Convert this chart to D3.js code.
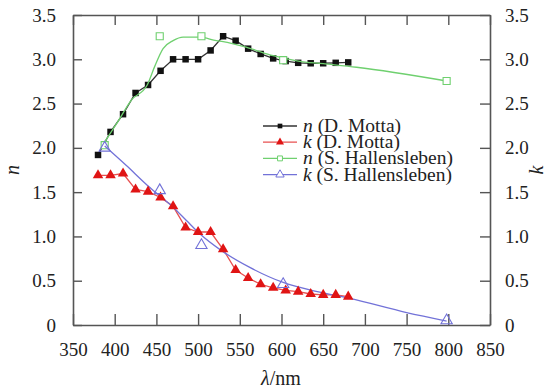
<!DOCTYPE html>
<html><head><meta charset="utf-8">
<script src="https://cdn.jsdelivr.net/npm/d3@7"></script>
</head>
<body><svg id="c" width="559" height="392"></svg>
<script>
// ---- data ----
const mottaWl = [380,395,410,425,440,455,470,485,500,515,530,545,560,575,590,605,620,635,650,665,680];
const mottaN  = [1.92,2.18,2.38,2.62,2.71,2.87,3.00,3.00,3.00,3.10,3.26,3.21,3.12,3.06,3.01,2.98,2.96,2.955,2.955,2.96,2.965];
const mottaK  = [1.69,1.69,1.71,1.53,1.505,1.44,1.34,1.10,1.05,1.05,0.855,0.62,0.53,0.46,0.42,0.39,0.376,0.35,0.34,0.34,0.32];
const halWl   = [388,454,504,602,798];
const halN    = [2.03,3.26,3.26,2.99,2.755];
const halK    = [2.0,1.52,0.90,0.46,0.05];
// fitted curves
const halFitNWl = [386,404,420,439,448,458,470,482,502,522,530,560,590,620,650,690,798];
const halFitN   = [2.04,2.30,2.54,2.71,2.92,3.12,3.21,3.25,3.25,3.21,3.20,3.13,3.04,2.98,2.95,2.91,2.755];
const halFitKWl = [388,414,440,455,470,486,502,528,562,602,646,682,750,798];
const halFitK   = [2.02,1.80,1.57,1.45,1.33,1.18,1.03,0.84,0.65,0.48,0.37,0.30,0.14,0.045];
const xTicks = [350,400,450,500,550,600,650,700,750,800,850];
const yTicks = [0,0.5,1.0,1.5,2.0,2.5,3.0,3.5];
const legendLabels = [["n"," (D. Motta)"],["k"," (D. Motta)"],["n"," (S. Hallensleben)"],["k"," (S. Hallensleben)"]];

d3.select("body").style("margin","0").style("background","#fff");
const FONT = "Liberation Serif";
const svg = d3.select("#c");
const x = d3.scaleLinear().domain([350,850]).range([73,490]);
const y = d3.scaleLinear().domain([0,3.5]).range([325,15]);
const axisColor = "#555";
const fs = 19;
const yFmt = d => d===0 ? "0" : d3.format(".1f")(d);

// axes built by hand-styled d3 axes; tick labels re-created as plain texts
function styleAxis(g){
  g.selectAll("path.domain").attr("stroke",axisColor).attr("stroke-width",1.6);
  g.selectAll(".tick line").attr("stroke",axisColor).attr("stroke-width",1.4);
  g.selectAll("text").attr("font-size",fs).attr("fill","#222").attr("font-family",FONT);
  g.attr("font-family",FONT);
}
svg.append("g").attr("transform","translate(0,325)")
  .call(d3.axisBottom(x).tickValues(xTicks).tickSizeInner(-11).tickSizeOuter(0).tickPadding(18)).call(styleAxis);
svg.append("g").attr("transform","translate(0,15)")
  .call(d3.axisTop(x).tickValues(xTicks).tickSizeInner(-10).tickSizeOuter(0).tickFormat("")).call(styleAxis);
svg.append("g").attr("transform","translate(73,0)")
  .call(d3.axisLeft(y).tickValues(yTicks).tickSizeInner(-9).tickSizeOuter(0).tickPadding(17).tickFormat(yFmt)).call(styleAxis);
svg.append("g").attr("transform","translate(490,0)")
  .call(d3.axisRight(y).tickValues(yTicks).tickSizeInner(-10).tickSizeOuter(0).tickPadding(15).tickFormat(yFmt)).call(styleAxis);

const line = d3.line().x(d=>x(d[0])).y(d=>y(d[1]));
const smooth = d3.line().x(d=>x(d[0])).y(d=>y(d[1])).curve(d3.curveMonotoneX);
const zip = (a,b)=>a.map((v,i)=>[v,b[i]]);

const cols = {black:"#111", blackLine:"#333", red:"#e01414", redLine:"#e85050", green:"#6fd06f", blue:"#7272d8"};
const sqr = d3.symbol().type(d3.symbolSquare);
const tri = d3.symbol().type(d3.symbolTriangle);

svg.append("path").attr("d",line(zip(mottaWl,mottaN))).attr("fill","none").attr("stroke",cols.blackLine).attr("stroke-width",1.3);
svg.append("g").selectAll("path").data(zip(mottaWl,mottaN)).join("path")
  .attr("transform",d=>`translate(${x(d[0])},${y(d[1])})`).attr("d",sqr.size(42)()).attr("fill",cols.black);
svg.append("path").attr("d",line(zip(mottaWl,mottaK))).attr("fill","none").attr("stroke",cols.redLine).attr("stroke-width",1.3);
svg.append("path").attr("d",smooth(zip(halFitNWl,halFitN))).attr("fill","none").attr("stroke",cols.green).attr("stroke-width",1.3);
svg.append("g").selectAll("path").data(zip(halWl,halN)).join("path")
  .attr("transform",d=>`translate(${x(d[0])},${y(d[1])})`).attr("d",sqr.size(50)()).attr("fill","#fff").attr("stroke",cols.green).attr("stroke-width",1.1);
svg.append("path").attr("d",smooth(zip(halFitKWl,halFitK))).attr("fill","none").attr("stroke",cols.blue).attr("stroke-width",1.3);
svg.append("g").selectAll("path").data(zip(mottaWl,mottaK)).join("path")
  .attr("transform",d=>`translate(${x(d[0])},${y(d[1])})`).attr("d",tri.size(48)()).attr("fill",cols.red);
svg.append("g").selectAll("path").data(zip(halWl,halK)).join("path")
  .attr("transform",d=>`translate(${x(d[0])},${y(d[1])})`).attr("d",tri.size(55)()).attr("fill","none").attr("stroke",cols.blue).attr("stroke-width",1.1);

// legend
const legStyles = [
  {line:cols.blackLine, sym:sqr, size:22, fill:cols.black, stroke:"none"},
  {line:cols.redLine, sym:tri, size:28, fill:cols.red, stroke:"none"},
  {line:cols.green, sym:sqr, size:24, fill:"#fff", stroke:cols.green},
  {line:cols.blue, sym:tri, size:30, fill:"#fff", stroke:cols.blue}
];
legendLabels.forEach((lab,i)=>{
  const yy = 126 + i*16.2;
  const s = legStyles[i];
  svg.append("line").attr("x1",263).attr("x2",297).attr("y1",yy).attr("y2",yy).attr("stroke",s.line).attr("stroke-width",1.3);
  svg.append("path").attr("transform",`translate(280,${yy})`).attr("d",s.sym.size(s.size)()).attr("fill",s.fill).attr("stroke",s.stroke);
  const t = svg.append("text").attr("x",303).attr("y",yy+6).attr("font-size",fs+0.5).attr("fill","#222").attr("font-family",FONT);
  t.append("tspan").attr("font-style","italic").text(lab[0]);
  t.append("tspan").text(lab[1]);
});

svg.append("text").attr("transform","translate(19,170) rotate(-90)").attr("text-anchor","middle")
  .attr("font-size",fs+1).attr("font-style","italic").attr("fill","#222").attr("font-family",FONT).text("n");
svg.append("text").attr("transform","translate(543,170) rotate(-90)").attr("text-anchor","middle")
  .attr("font-size",fs+1).attr("font-style","italic").attr("fill","#222").attr("font-family",FONT).text("k");
const xt = svg.append("text").attr("x",281).attr("y",385).attr("text-anchor","middle").attr("font-size",fs+1).attr("fill","#222").attr("font-family",FONT);
xt.append("tspan").attr("font-style","italic").text("λ");
xt.append("tspan").text("/nm");
</script></body></html>
